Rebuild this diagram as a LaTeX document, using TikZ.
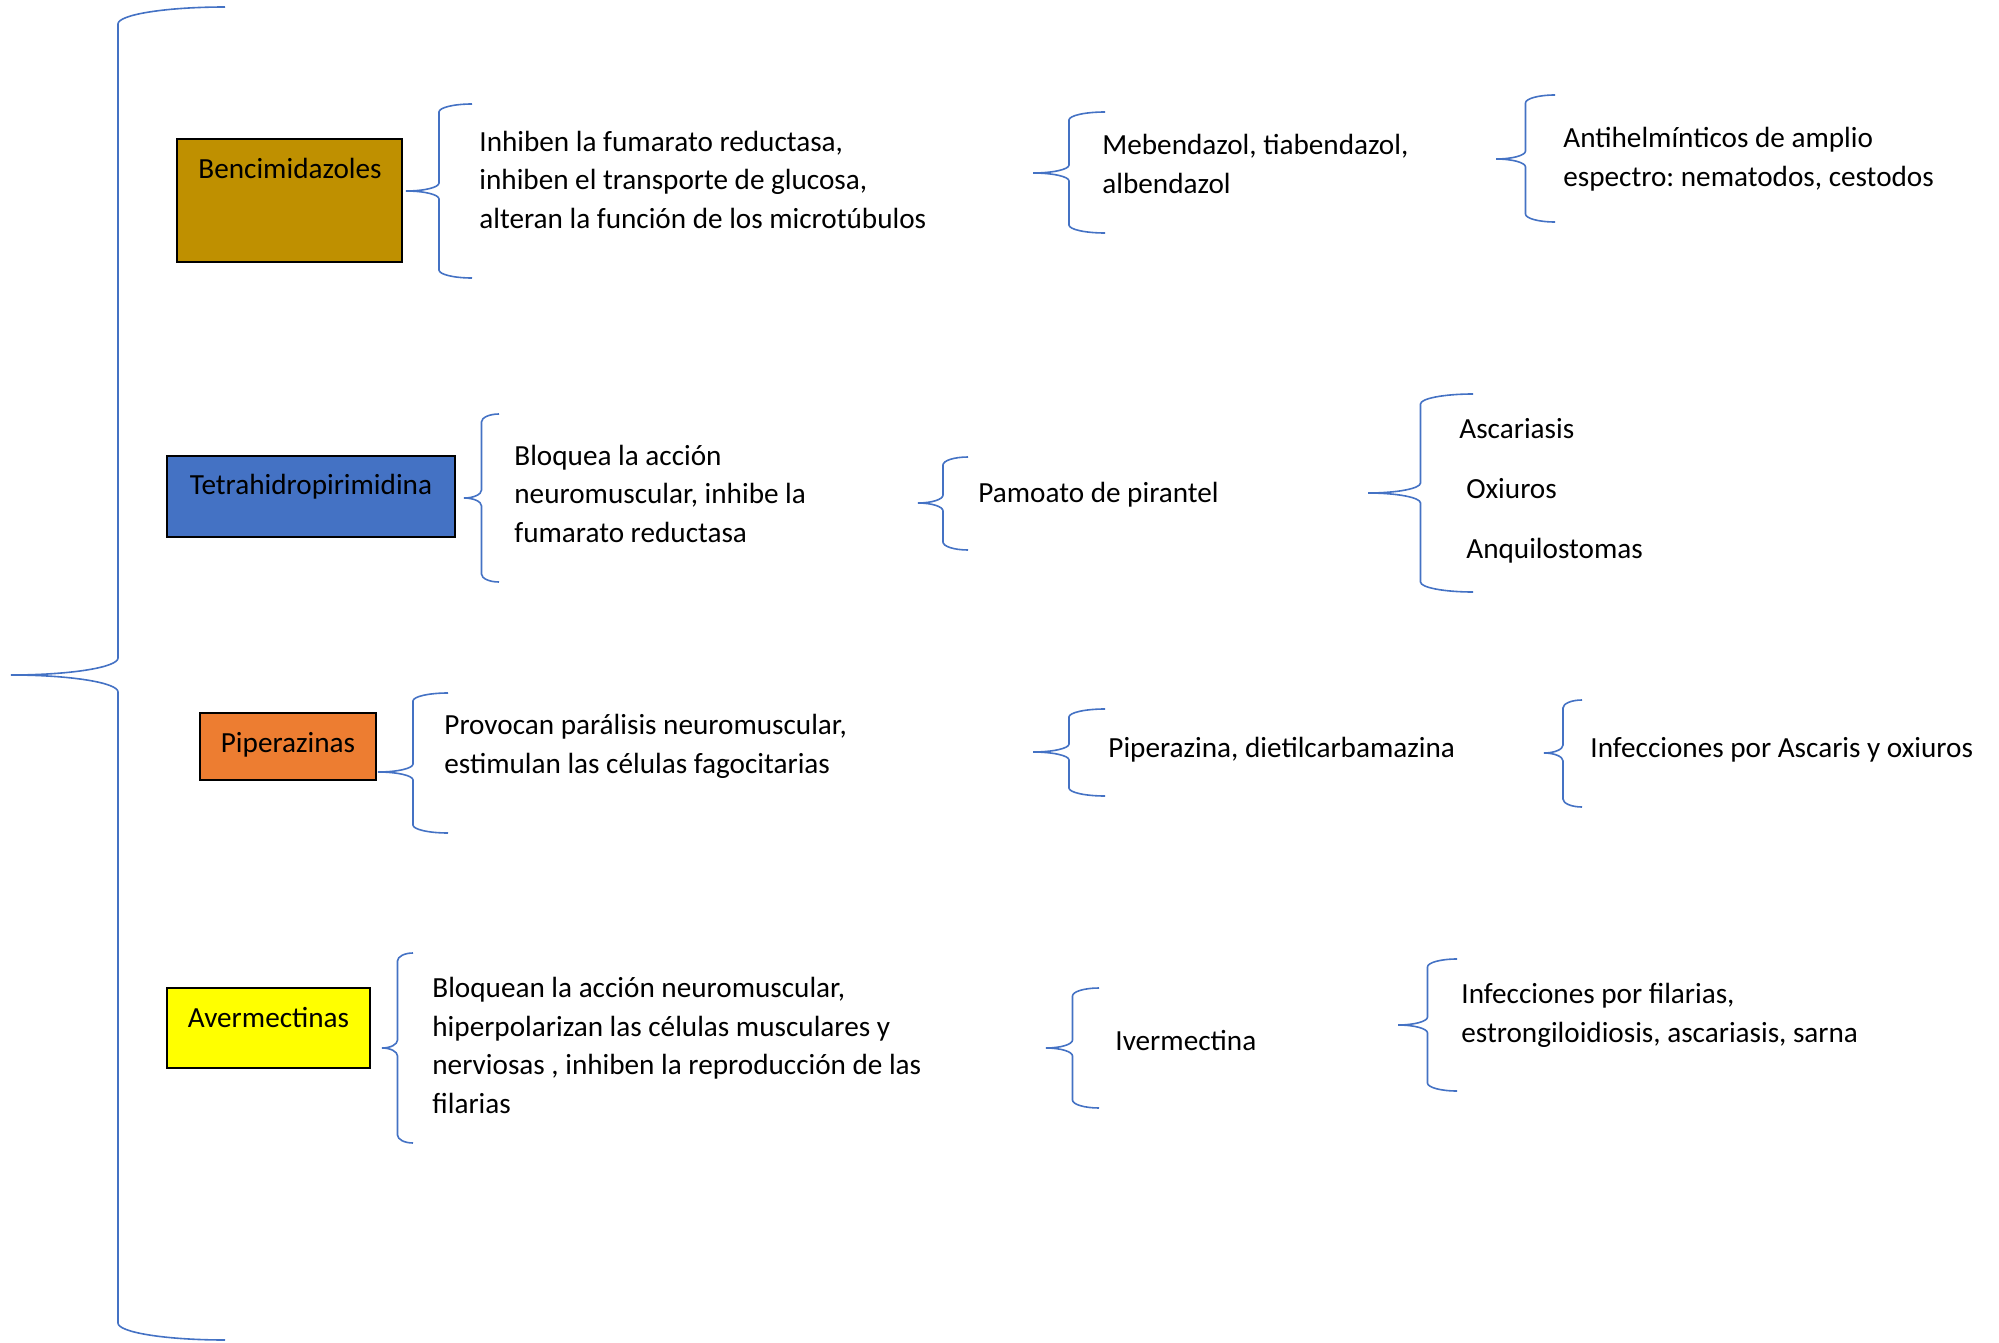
\documentclass[tikz,border=0pt]{standalone}
\usepackage{fontspec}
\setmainfont{Carlito}
\frenchspacing
\definecolor{braceblue}{HTML}{4472C4}
\definecolor{goldfill}{HTML}{BF9000}
\definecolor{bluefill}{HTML}{4472C4}
\definecolor{orangefill}{HTML}{ED7D31}
\definecolor{yellowfill}{HTML}{FFFF00}
\newcommand{\wbrace}[6]{% tipx, endx, top, bottom, tipy, r
  \pgfmathsetmacro{\brC}{(#1+#2)/2}
  \pgfmathsetmacro{\brH}{(#2-#1)/2}
  \draw[bracestyle] (#2,#3) .. controls ({#2-0.552*\brH},#3) and (\brC,{#3+0.448*#6}) .. (\brC,{#3+#6})
    -- (\brC,{#5-#6}) .. controls (\brC,{#5-0.448*#6}) and ({#1+0.552*\brH},#5) .. (#1,#5)
    .. controls ({#1+0.552*\brH},#5) and (\brC,{#5+0.448*#6}) .. (\brC,{#5+#6})
    -- (\brC,{#4-#6}) .. controls (\brC,{#4-0.448*#6}) and ({#2-0.552*\brH},#4) .. (#2,#4);
}
\tikzset{
  bracestyle/.style={draw=braceblue, line width=0.8pt},
  catbox/.style={draw=black, line width=0.9pt, inner sep=0pt},
  txt/.style={font=\fontsize{14.6}{19.2}\selectfont, align=left, inner sep=0pt, anchor=base west},
  lbl/.style={font=\fontsize{14.6}{19.2}\selectfont, inner sep=0pt, anchor=base}
}
\begin{document}
\begin{tikzpicture}[x=0.5pt,y=-0.5pt]
\useasboundingbox (0,0) rectangle (1999,1343);
% main brace
\wbrace{11}{225}{7}{1340}{675}{17}
% category boxes
\node[catbox, fill=goldfill, minimum width=112.5pt, minimum height=61.5pt] (b1) at (289.5,200.5) {};
\node[lbl] (b1t) at (290,178) {Bencimidazoles};
\node[catbox, fill=bluefill, minimum width=144pt, minimum height=40.5pt] (b2) at (311,496.5) {};
\node[lbl] (b2t) at (311,494) {Tetrahidropirimidina};
\node[catbox, fill=orangefill, minimum width=88pt, minimum height=33.5pt] (b3) at (288,746.5) {};
\node[lbl] (b3t) at (288,752) {Piperazinas};
\node[catbox, fill=yellowfill, minimum width=101.5pt, minimum height=40pt] (b4) at (268.5,1028) {};
\node[lbl] (b4t) at (268.5,1027) {Avermectinas};
% row 1 (multi-line nodes: base = last line's baseline)
\wbrace{406}{472}{104}{278}{191}{8}
\node[txt] (m1) at (479,228) {Inhiben la fumarato reductasa,\\inhiben el transporte de glucosa,\\alteran la función de los microtúbulos};
\wbrace{1033}{1105}{112}{233}{173}{8}
\node[txt] (d1) at (1102,193) {Mebendazol, tiabendazol,\\albendazol};
\wbrace{1496}{1555}{95}{222}{159}{8}
\node[txt] (u1) at (1563,186) {Antihelmínticos de amplio\\espectro: nematodos, cestodos};
% row 2
\wbrace{464}{499}{414}{582}{498}{8}
\node[txt] (m2) at (514,542) {Bloquea la acción\\neuromuscular, inhibe la\\fumarato reductasa};
\wbrace{918}{968}{457}{550}{503}{8}
\node[txt] (d2) at (978,502) {Pamoato de pirantel};
\wbrace{1368}{1473}{394}{592}{493}{10}
\node[txt] (u2a) at (1459,438) {Ascariasis};
\node[txt] (u2b) at (1466,498) {Oxiuros};
\node[txt] (u2c) at (1466,558) {Anquilostomas};
% row 3
\wbrace{378}{448}{693}{833}{772}{8}
\node[txt] (m3) at (444,773) {Provocan parálisis neuromuscular,\\estimulan las células fagocitarias};
\wbrace{1033}{1105}{709}{796}{752}{8}
\node[txt] (d3) at (1108,757) {Piperazina, dietilcarbamazina};
\wbrace{1544}{1582}{700}{807}{753}{8}
\node[txt] (u3) at (1590,757) {Infecciones por Ascaris y oxiuros};
% row 4
\wbrace{382}{413}{953}{1143}{1048}{8}
\node[txt] (m4) at (432,1113) {Bloquean la acción neuromuscular,\\hiperpolarizan las células musculares y\\nerviosas , inhiben la reproducción de las\\filarias};
\wbrace{1046}{1099}{988}{1108}{1048}{8}
\node[txt] (d4) at (1115,1050) {Ivermectina};
\wbrace{1398}{1457}{959}{1091}{1025}{8}
\node[txt] (u4) at (1461,1042) {Infecciones por filarias,\\estrongiloidiosis, ascariasis, sarna};
\end{tikzpicture}
\end{document}
